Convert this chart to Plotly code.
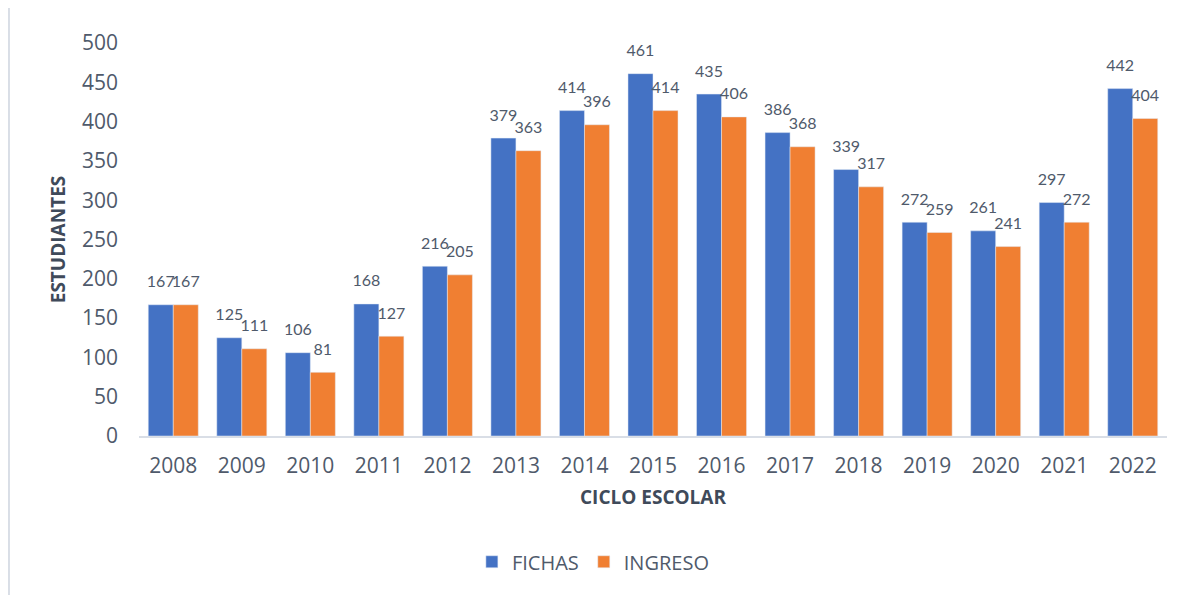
import plotly.graph_objects as go

years = ["2008", "2009", "2010", "2011", "2012", "2013", "2014", "2015",
         "2016", "2017", "2018", "2019", "2020", "2021", "2022"]
fichas = [167, 125, 106, 168, 216, 379, 414, 461, 435, 386, 339, 272, 261, 297, 442]
ingreso = [167, 111, 81, 127, 205, 363, 396, 414, 406, 368, 317, 259, 241, 272, 404]
y_ticks = [0, 50, 100, 150, 200, 250, 300, 350, 400, 450, 500]

TEXT_COLOR = "#4f5a6b"
TITLE_COLOR = "#3f4a5a"
LABEL_FONT = dict(family="Lato, sans-serif", size=16, color=TEXT_COLOR)

fig = go.Figure()

series = [("FICHAS", fichas, "#4472C4"), ("INGRESO", ingreso, "#F07F32")]
for name, values, color in series:
    fig.add_trace(go.Bar(
        x=years, y=values, name=name, offsetgroup=name,
        marker=dict(color=color),
    ))
# value labels: invisible markers keep the text a little above the bar tops
for name, values, color in series:
    fig.add_trace(go.Scatter(
        x=years, y=values, offsetgroup=name, mode="markers+text",
        text=values, textposition="top center", textfont=LABEL_FONT,
        marker=dict(size=20, opacity=0), cliponaxis=False,
        showlegend=False, hoverinfo="skip",
    ))

# thin frame line at the left edge of the picture
fig.add_shape(type="line", xref="paper", yref="paper",
              x0=-0.1265, x1=-0.1265, y0=-0.41, y1=1.10,
              line=dict(color="#d9dee6", width=2))

# page body has an 8px margin, so the figure is sized to fit inside it
fig.update_layout(
    width=1180, height=587,
    paper_bgcolor="white", plot_bgcolor="white",
    font=dict(family="Open Sans, sans-serif", color=TEXT_COLOR),
    margin=dict(l=131, r=21, t=35, b=159),
    barmode="group", bargap=0.27, bargroupgap=0,
    scattermode="group", scattergap=0.27,
    showlegend=True,
    legend=dict(orientation="h", x=0.442, xanchor="center", y=-0.32,
                yanchor="middle", font=dict(size=20, color=TEXT_COLOR),
                itemwidth=30, traceorder="normal"),
    xaxis=dict(
        showgrid=False, zeroline=False, showline=True,
        linecolor="#d9dee6", linewidth=2,
        tickfont=dict(size=21, color=TEXT_COLOR),
        ticklabelstandoff=10,
        title=dict(text="<b>CICLO ESCOLAR</b>", standoff=12,
                   font=dict(size=19, color=TITLE_COLOR)),
    ),
    yaxis=dict(
        range=[0, 500], tickvals=y_ticks,
        showgrid=False, zeroline=False, showline=False,
        tickfont=dict(size=21, color=TEXT_COLOR),
        ticklabelstandoff=20,
        title=dict(text="<b>ESTUDIANTES</b>", standoff=11,
                   font=dict(size=19, color=TITLE_COLOR)),
    ),
)

fig.write_html("out.html")
